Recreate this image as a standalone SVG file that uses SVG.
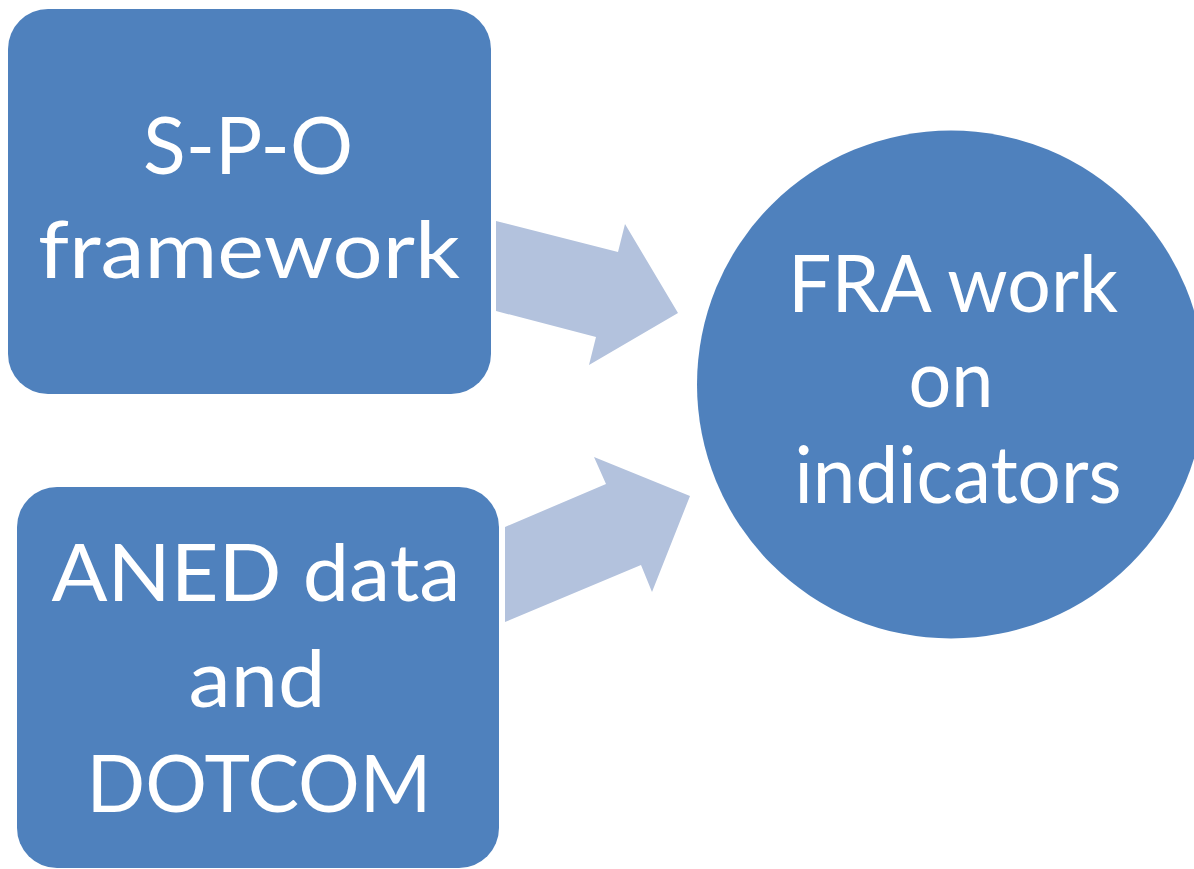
<svg xmlns="http://www.w3.org/2000/svg" width="1194" height="869" viewBox="0 0 1194 869">
<style>
.node{fill:#4F81BD;}
.arrow{fill:#B3C2DD;}
.lbl{font-family:Lato,"Open Sans","Liberation Sans",sans-serif;font-size:79px;fill:#FFFFFF;text-anchor:middle;}
</style>
<rect width="1194" height="869" fill="#FFFFFF"/>
<g id="connectors">
<polygon class="arrow" points="496,221 618,252 625,224 678,313 589,365 596,337 496,311"/>
<polygon class="arrow" points="505,527 606,484 594,457 690,496 652,592 641,565 505,622"/>
</g>
<g id="node-spo">
<rect class="node" x="8" y="9" width="483" height="385" rx="40" ry="40"/>
<text class="lbl" x="248" y="174" textLength="210" lengthAdjust="spacingAndGlyphs">S-P-O</text>
<text class="lbl" x="249" y="278" textLength="422" lengthAdjust="spacingAndGlyphs">framework</text>
</g>
<g id="node-aned">
<rect class="node" x="17" y="487" width="482" height="381" rx="40" ry="40"/>
<text class="lbl" x="256" y="601" textLength="409" lengthAdjust="spacingAndGlyphs">ANED data</text>
<text class="lbl" x="257" y="707" textLength="137" lengthAdjust="spacingAndGlyphs">and</text>
<text class="lbl" x="259" y="812" textLength="345" lengthAdjust="spacingAndGlyphs">DOTCOM</text>
</g>
<g id="node-fra">
<circle class="node" cx="951" cy="384.5" r="254"/>
<text class="lbl" x="953" y="312" textLength="330" lengthAdjust="spacingAndGlyphs">FRA work</text>
<text class="lbl" x="951" y="407" textLength="85" lengthAdjust="spacingAndGlyphs">on</text>
<text class="lbl" x="958" y="503" textLength="327" lengthAdjust="spacingAndGlyphs">indicators</text>
</g>
</svg>
